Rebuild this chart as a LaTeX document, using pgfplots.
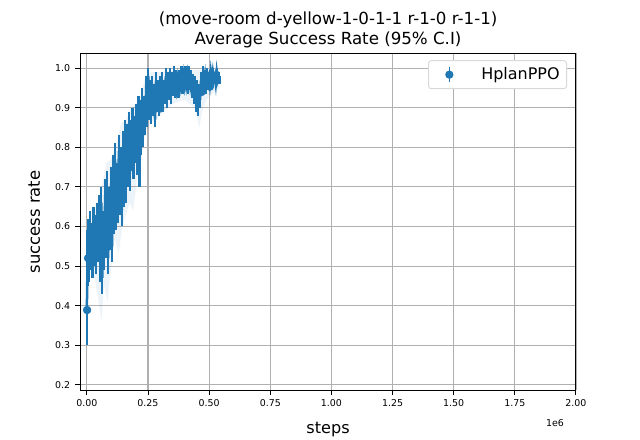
\documentclass[border=0pt]{standalone}
\usepackage{pgfplots}
\pgfplotsset{compat=1.18}
\usepackage{fontspec}
\setmainfont{DejaVu Sans}
\definecolor{c0}{HTML}{1F77B4}
\definecolor{gridc}{HTML}{B0B0B0}

\begin{document}
\begin{tikzpicture}
\path[use as bounding box] (-57.6bp,-36bp) rectangle (403.2bp,280.8bp);
\begin{axis}[
  at={(0,0)}, anchor=south west,
  scale only axis, width=357.1bp, height=242.6bp,
  xmin=-0.028, xmax=2.0, ymin=0.187, ymax=1.038,
  xtick={0,0.25,0.5,0.75,1,1.25,1.5,1.75,2},
  ytick={0.2,0.3,0.4,0.5,0.6,0.7,0.8,0.9,1.0},
  scaled ticks=false,
  xticklabel style={/pgf/number format/.cd, fixed, fixed zerofill, precision=2},
  yticklabel style={/pgf/number format/.cd, fixed, fixed zerofill, precision=1},
  /pgf/number format/assume math mode=true,
  ticklabel style={font=\fontsize{6.8bp}{8bp}\selectfont},
  tick align=outside, major tick length=3.5bp,
  tick style={black, line width=0.7bp},
  xtick pos=bottom, ytick pos=left,
  axis line style={line width=0.7bp},
  grid=major, major grid style={gridc, line width=0.8bp},
  legend style={at={(0.982,0.979)}, anchor=north east, draw=black!15, rounded corners=2bp, fill=white, text opacity=1, font=\fontsize{11.5bp}{13bp}\selectfont, inner xsep=3bp, inner ysep=3bp, line width=0.7bp},
  legend cell align=left,
]
% 95% CI band
\addplot[draw=none, fill=c0, fill opacity=0.08, forget plot] table {
x y
0.000 0.30
0.005 0.47
0.020 0.49
0.035 0.46
0.050 0.40
0.060 0.36
0.070 0.45
0.085 0.41
0.100 0.50
0.115 0.57
0.130 0.53
0.145 0.60
0.160 0.63
0.175 0.66
0.190 0.64
0.205 0.72
0.220 0.76
0.240 0.84
0.260 0.86
0.300 0.88
0.350 0.91
0.400 0.92
0.440 0.90
0.460 0.85
0.475 0.90
0.500 0.93
0.543 0.95
0.543 0.99
0.500 0.995
0.450 0.995
0.400 0.995
0.350 0.995
0.300 0.99
0.260 0.99
0.240 0.98
0.220 0.93
0.200 0.91
0.180 0.90
0.160 0.87
0.140 0.86
0.120 0.81
0.100 0.77
0.080 0.76
0.060 0.70
0.040 0.66
0.020 0.63
0.005 0.60
0.000 0.45
} -- cycle;
% mean with error bars
\addplot[c0, line width=1.8bp, no marks, forget plot,
  error bars/.cd, y dir=both, y explicit, error bar style={c0, line width=1.6bp}, error mark=none]
  table[x=x, y=y, y error=e] {
x y e
0.000 0.39 0.09
0.003 0.52 0.07
0.006 0.58 0.04
0.009 0.50 0.04
0.012 0.60 0.04
0.015 0.53 0.04
0.019 0.57 0.04
0.023 0.51 0.04
0.027 0.61 0.04
0.031 0.54 0.04
0.035 0.59 0.04
0.039 0.52 0.04
0.043 0.62 0.04
0.047 0.55 0.04
0.051 0.64 0.04
0.055 0.50 0.04
0.059 0.66 0.04
0.063 0.47 0.04
0.067 0.60 0.04
0.071 0.53 0.04
0.075 0.68 0.04
0.079 0.56 0.04
0.083 0.70 0.04
0.087 0.52 0.04
0.091 0.66 0.04
0.095 0.58 0.04
0.099 0.71 0.04
0.103 0.55 0.04
0.107 0.74 0.04
0.111 0.62 0.04
0.115 0.77 0.04
0.119 0.63 0.04
0.123 0.72 0.04
0.127 0.65 0.04
0.131 0.79 0.04
0.135 0.67 0.04
0.139 0.76 0.04
0.143 0.64 0.04
0.147 0.80 0.04
0.151 0.69 0.04
0.155 0.83 0.04
0.159 0.70 0.04
0.163 0.82 0.04
0.167 0.74 0.04
0.171 0.86 0.03
0.175 0.72 0.03
0.179 0.84 0.03
0.183 0.77 0.03
0.187 0.87 0.03
0.191 0.75 0.03
0.195 0.85 0.03
0.199 0.79 0.03
0.203 0.88 0.03
0.207 0.76 0.03
0.211 0.90 0.03
0.215 0.73 0.03
0.219 0.89 0.03
0.223 0.81 0.03
0.227 0.92 0.03
0.231 0.83 0.03
0.235 0.90 0.03
0.239 0.86 0.03
0.243 0.96 0.02
0.247 0.87 0.02
0.251 0.98 0.02
0.255 0.89 0.02
0.259 0.95 0.02
0.263 0.88 0.02
0.267 0.96 0.02
0.271 0.90 0.02
0.275 0.94 0.02
0.279 0.87 0.02
0.283 0.97 0.02
0.287 0.91 0.02
0.291 0.95 0.02
0.295 0.90 0.02
0.299 0.96 0.02
0.303 0.92 0.02
0.307 0.97 0.02
0.311 0.91 0.02
0.315 0.95 0.02
0.319 0.93 0.02
0.323 0.98 0.02
0.327 0.92 0.02
0.331 0.97 0.02
0.335 0.94 0.02
0.339 0.98 0.02
0.343 0.93 0.02
0.347 0.97 0.02
0.351 0.95 0.02
0.355 0.99 0.015
0.359 0.94 0.015
0.363 0.98 0.015
0.367 0.95 0.015
0.371 0.97 0.015
0.375 0.94 0.015
0.379 0.98 0.015
0.383 0.96 0.015
0.387 0.99 0.015
0.391 0.95 0.015
0.395 0.98 0.015
0.399 0.96 0.015
0.403 0.99 0.015
0.407 0.96 0.015
0.411 0.98 0.015
0.415 0.95 0.015
0.419 0.99 0.015
0.423 0.96 0.015
0.427 0.98 0.015
0.431 0.94 0.015
0.435 0.97 0.015
0.439 0.93 0.02
0.443 0.96 0.02
0.447 0.91 0.02
0.451 0.95 0.02
0.455 0.90 0.02
0.459 0.94 0.02
0.463 0.92 0.02
0.467 0.97 0.02
0.471 0.95 0.015
0.475 0.99 0.015
0.479 0.96 0.015
0.483 0.98 0.015
0.487 0.95 0.015
0.491 0.99 0.01
0.495 0.97 0.01
0.499 0.98 0.01
0.503 0.96 0.01
0.507 0.99 0.01
0.511 0.97 0.01
0.515 0.99 0.01
0.519 0.97 0.01
0.523 0.98 0.01
0.527 0.96 0.01
0.531 0.99 0.01
0.535 0.97 0.01
0.539 0.98 0.01
0.543 0.97 0.01
};
% visible markers
\addplot[only marks, mark=*, mark size=2.8bp, c0, forget plot] table {
x y
0.001 0.389
0.005 0.52
0.299 0.898
0.469 0.94
0.503 0.953
};
\addlegendimage{legend image code/.code={
  \path[draw=none, fill=none] (0bp,0) -- (33bp,0);
  \draw[c0, draw opacity=1, line width=1.08bp] (12bp,-5.5bp) -- (12bp,5.5bp);
  \fill[c0, fill opacity=1] (12bp,0) circle (2.6bp);}}
\addlegendentry{HplanPPO}
\end{axis}
\node[anchor=base] at (178.6bp,263.5bp) {\fontsize{12bp}{14bp}\selectfont (move-room d-yellow-1-0-1-1 r-1-0 r-1-1)};
\node[anchor=base] at (178.6bp,249bp) {\fontsize{12bp}{14bp}\selectfont Average Success Rate (95\% C.I)};
\node[anchor=base] at (178.6bp,-31bp) {\fontsize{11.6bp}{13bp}\selectfont steps};
\node[rotate=90] at (-33bp,121bp) {\fontsize{11.8bp}{13bp}\selectfont success rate};
\node at (342bp,-23.8bp) {\fontsize{6.8bp}{8bp}\selectfont 1e6};
\end{tikzpicture}
\end{document}
